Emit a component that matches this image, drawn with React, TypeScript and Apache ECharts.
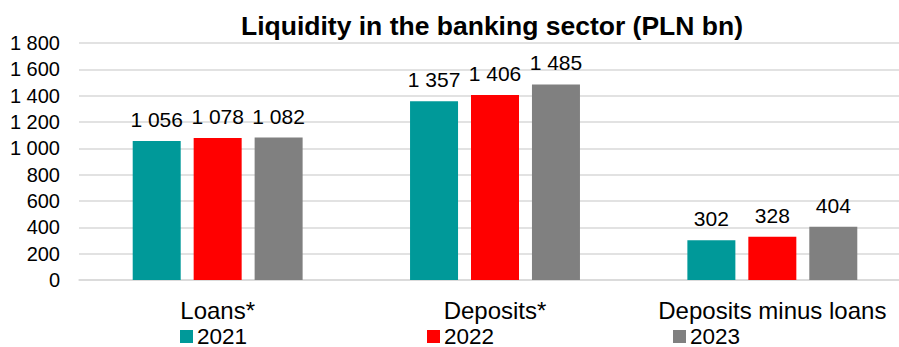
import React, { useEffect, useRef } from "react";
import * as echarts from "echarts";

const categories = ["Loans*", "Deposits*", "Deposits minus loans"];
const years = ["2021", "2022", "2023"];
const values2021 = [1056, 1357, 302];
const values2022 = [1078, 1406, 328];
const values2023 = [1082, 1485, 404];
const colors = ["#009999", "#FF0000", "#808080"];
const legendLefts = [180, 427, 673];

const fmt = (v: number) => {
  const s = String(Math.round(v));
  return s.replace(/\B(?=(\d{3})+(?!\d))/g, " ");
};

export default function App() {
  const ref = useRef<HTMLDivElement>(null);
  useEffect(() => {
    if (!ref.current) return;
    const chart = echarts.init(ref.current, null, { renderer: "svg" });
    const font = "'Liberation Sans', Arial, sans-serif";
    const seriesData = [values2021, values2022, values2023];
    chart.setOption({
      animation: false,
      title: {
        text: "Liquidity in the banking sector (PLN bn)",
        left: 492,
        top: 12,
        textAlign: "center",
        padding: 0,
        textStyle: { fontFamily: font, fontSize: 26.5, fontWeight: "bold", color: "#000" },
      },
      grid: { left: 79, top: 43, width: 832, height: 237, containLabel: false },
      legend: years.map((y, i) => ({
        data: [y],
        left: legendLefts[i],
        top: 325,
        padding: 0,
        itemWidth: 13,
        itemHeight: 13,
        itemGap: 0,
        icon: "rect",
        textStyle: {
          fontFamily: font,
          fontSize: 22.5,
          lineHeight: 20,
          color: "#000",
          padding: [0, 0, 0, -1],
        },
      })),
      xAxis: {
        type: "category",
        data: categories,
        axisTick: { show: false },
        axisLine: { lineStyle: { color: "#D9D9D9", width: 1.5 } },
        axisLabel: { fontFamily: font, fontSize: 24, color: "#000", margin: 18, interval: 0 },
      },
      yAxis: {
        type: "value",
        min: 0,
        max: 1800,
        interval: 200,
        axisLabel: {
          fontFamily: font,
          fontSize: 20,
          color: "#000",
          margin: 19,
          formatter: (v: number) => fmt(v),
        },
        splitLine: { lineStyle: { color: "#D9D9D9", width: 1.5 } },
        axisLine: { show: false },
        axisTick: { show: false },
      },
      series: years.map((y, i) => ({
        name: y,
        type: "bar",
        data: seriesData[i],
        barWidth: 48,
        barGap: "27%",
        itemStyle: { color: colors[i] },
        label: {
          show: true,
          position: "top",
          distance: 11,
          fontFamily: font,
          fontSize: 21,
          color: "#000",
          formatter: (p: any) => fmt(p.value),
        },
      })),
    });
    return () => chart.dispose();
  }, []);
  return (
    <div
      style={{
        position: "fixed",
        left: 0,
        top: 0,
        width: 899,
        height: 347,
        overflow: "hidden",
        background: "#fff",
      }}
    >
      <div ref={ref} style={{ width: 912, height: 347 }} />
    </div>
  );
}
